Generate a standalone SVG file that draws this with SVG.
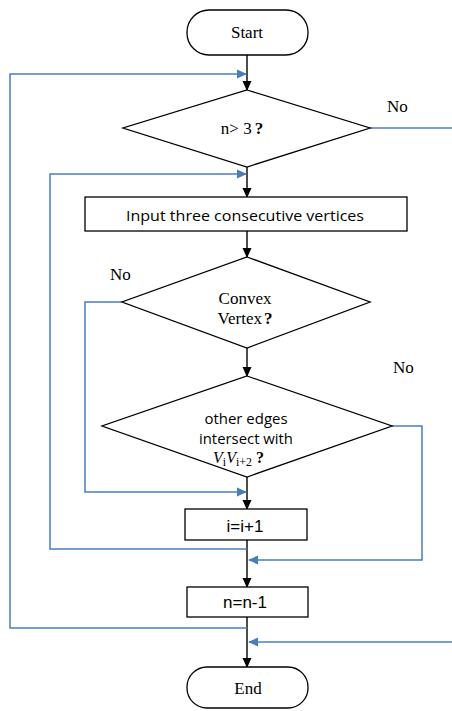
<svg xmlns="http://www.w3.org/2000/svg" width="452" height="711" viewBox="0 0 452 711">
<style>
.shape{fill:#fff;stroke:#000;stroke-width:1.3}
.bl{fill:none;stroke:#000;stroke-width:1.4}
.blue{fill:none;stroke:#4a7ebb;stroke-width:1.5}
.serif{font-family:"Liberation Serif","Times New Roman",serif;font-size:17px;fill:#000}
.sans{font-family:"Open Sans","Liberation Sans",sans-serif;font-size:14px;fill:#000}
.arial{font-family:"Liberation Sans",Arial,sans-serif;font-size:17px;fill:#000}
</style>
<defs>
<marker id="ab" markerWidth="10" markerHeight="10" refX="9" refY="5" orient="auto" markerUnits="userSpaceOnUse">
<path d="M0,0.5 L10,5 L0,9.5 Z" fill="#000"/>
</marker>
<marker id="au" markerWidth="10" markerHeight="10" refX="9" refY="5" orient="auto" markerUnits="userSpaceOnUse">
<path d="M0,0.5 L10,5 L0,9.5 Z" fill="#4a7ebb"/>
</marker>
</defs>
<rect width="452" height="711" fill="#fff"/>
<g id="connectors">
<line class="bl" x1="247" y1="55" x2="247" y2="90" marker-end="url(#ab)"/>
<line class="bl" x1="247" y1="167" x2="247" y2="197" marker-end="url(#ab)"/>
<line class="bl" x1="247" y1="231" x2="247" y2="257" marker-end="url(#ab)"/>
<line class="bl" x1="247" y1="348" x2="247" y2="376" marker-end="url(#ab)"/>
<line class="bl" x1="247" y1="477" x2="247" y2="509" marker-end="url(#ab)"/>
<line class="bl" x1="247" y1="540" x2="247" y2="587" marker-end="url(#ab)"/>
<line class="bl" x1="247" y1="617" x2="247" y2="667" marker-end="url(#ab)"/>
<polyline class="blue" points="247,628 10,628 10,74 246,74" marker-end="url(#au)"/>
<polyline class="blue" points="247,549 50,549 50,174 246,174" marker-end="url(#au)"/>
<polyline class="blue" points="122,302 85,302 85,492 246,492" marker-end="url(#au)"/>
<polyline class="blue" points="392,426 422,426 422,560 249,560" marker-end="url(#au)"/>
<line class="blue" x1="370" y1="128" x2="452" y2="128"/>
<line class="blue" x1="452" y1="642" x2="249" y2="642" marker-end="url(#au)"/>
<text class="serif" x="387" y="112" font-size="16">No</text>
<text class="serif" x="110" y="280" font-size="16">No</text>
<text class="serif" x="393" y="373" font-size="16">No</text>
</g>
<g id="start">
<rect class="shape" x="187" y="10" width="121" height="45" rx="22" ry="22"/>
<text class="serif" x="247" y="38" text-anchor="middle">Start</text>
</g>
<g id="cond-n">
<polygon class="shape" points="247,90 370,128 247,167 123,128"/>
<text class="serif" x="242" y="134" text-anchor="middle">n&gt; 3<tspan font-weight="bold" dx="3">?</tspan></text>
</g>
<g id="input">
<rect class="shape" x="85" y="197" width="322" height="34"/>
<text class="sans" x="245" y="221" text-anchor="middle" textLength="238" lengthAdjust="spacingAndGlyphs">Input three consecutive vertices</text>
</g>
<g id="cond-convex">
<polygon class="shape" points="247,257 370,302 247,348 122,302"/>
<text class="serif" x="245" y="304" text-anchor="middle">Convex</text>
<text class="serif" x="245" y="324" text-anchor="middle">Vertex<tspan font-weight="bold" dx="2">?</tspan></text>
</g>
<g id="cond-intersect">
<polygon class="shape" points="247,376 392,426 247,477 102,426"/>
<text class="sans" x="246" y="424" text-anchor="middle" textLength="83" lengthAdjust="spacingAndGlyphs">other edges</text>
<text class="sans" x="246" y="444" text-anchor="middle" textLength="94" lengthAdjust="spacingAndGlyphs">intersect with</text>
<text x="213" y="463" font-family="Liberation Serif, serif" font-size="16" font-style="italic">V<tspan font-size="12" dy="3" font-style="normal">i</tspan><tspan dy="-3">V</tspan><tspan font-size="12" dy="3" font-style="normal">i+2</tspan><tspan dy="-3" dx="4" font-style="normal" font-weight="bold">?</tspan></text>
</g>
<g id="inc-i">
<rect class="shape" x="185" y="509" width="122" height="31"/>
<text class="arial" x="245" y="532" text-anchor="middle">i=i+1</text>
</g>
<g id="dec-n">
<rect class="shape" x="187" y="587" width="121" height="30"/>
<text class="arial" x="245" y="608" text-anchor="middle">n=n-1</text>
</g>
<g id="end">
<rect class="shape" x="187" y="667" width="121" height="41" rx="20" ry="20"/>
<text class="serif" x="248" y="694" text-anchor="middle">End</text>
</g>
</svg>
